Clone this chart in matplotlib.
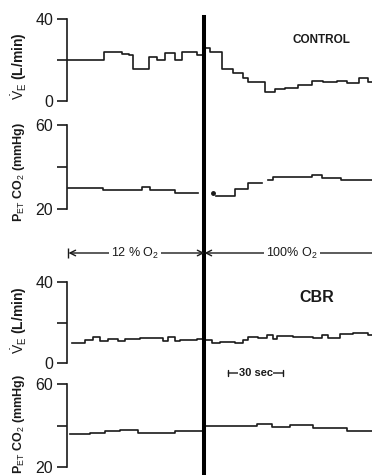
import numpy as np
import matplotlib
matplotlib.use("Agg")
import matplotlib.pyplot as plt

plt.rcParams['font.family'] = ['Liberation Sans', 'DejaVu Sans']
plt.rcParams['mathtext.fontset'] = 'custom'
plt.rcParams['mathtext.rm'] = 'Liberation Sans'
plt.rcParams['mathtext.it'] = 'Liberation Sans'
plt.rcParams['mathtext.bf'] = 'Liberation Sans:bold'

# time axis (sec), gas switch from 12% O2 to 100% O2
t_end = 166.4
t_switch = 75.0
scale_bar = [88, 118]  # 30 sec

# CONTROL, ventilation (L/min)
ctl_ve_t_pre = [0, 20, 30, 34, 36, 45, 49, 53.5, 55, 59, 63, 71, 75]
ctl_ve_pre = [20, 24, 23, 22.5, 15.5, 21.5, 20.2, 23.4, 23.5, 20, 23.7, 22.5]
ctl_ve_t_post = [75, 78, 84.5, 90.5, 96, 98.7, 108, 113.5, 119, 126, 133.6,
                 139.6, 147.3, 152.7, 159.3, 164.2, 166.4]
ctl_ve_post = [25.7, 24, 15.6, 13.5, 11, 9.4, 4.5, 5.7, 6.5, 7.8, 9.8,
               9.1, 9.8, 9, 11, 9.4]

# CONTROL, end-tidal CO2 (mmHg)
ctl_co2_t_pre = [0.5, 19.6, 40.9, 45.3, 58.9, 71.5]
ctl_co2_pre = [30, 29, 30.6, 29, 27.5]
ctl_co2_t_post = [81.3, 91.6, 98.7, 106.4, 109.6, 112.4, 133.6, 139.1, 149.5, 166.4]
ctl_co2_post = [26.3, 29.5, 32.2, np.nan, 33.8, 35.4, 36.2, 34.6, 33.8]
ctl_co2_dot = (79.5, 27.5)

# CBR, ventilation (L/min)
cbr_ve_t_pre = [2.7, 9.8, 14.2, 18, 22.4, 27.8, 31.6, 39.8, 46.9, 52.4, 55.1,
                58.9, 61.6, 70.9, 75]
cbr_ve_pre = [9.7, 11.4, 12.7, 10.9, 11.7, 11, 11.7, 12.2, 12.5, 10.9, 12.7,
              10.9, 11.4, 11.9]
cbr_ve_t_post = [75, 79.1, 83.5, 91.6, 96, 98.7, 104.2, 109.1, 112.4, 114.5,
                 123.3, 134.2, 139.1, 142.4, 148.9, 156, 164.2, 166.4]
cbr_ve_post = [11.4, 10, 10.5, 9.7, 11.4, 13, 12.2, 13.8, 11.7, 13.3, 12.7,
               12.2, 13.8, 12.5, 14.2, 15, 13.8]

# CBR, end-tidal CO2 (mmHg)
cbr_co2_t_pre = [1.6, 12.5, 20.7, 28.9, 33.8, 38.7, 58.9, 75]
cbr_co2_pre = [35.9, 36.5, 37.3, 37.8, 38, 36.5, 37.5]
cbr_co2_t_post = [75.3, 103.6, 111.8, 121.6, 134.2, 152.7, 166.4]
cbr_co2_post = [39.8, 40.6, 39.4, 40.2, 39, 37.3]

W, H = 372, 475
fig = plt.figure(figsize=(W / 100, H / 100), dpi=100)
ink = '#1a1a1a'

def px_axes(x0, x1, ytop, ybot):
    return fig.add_axes([x0 / W, 1 - ybot / H, (x1 - x0) / W, (ybot - ytop) / H])

def draw_steps(ax, t, v, **kw):
    ax.step(t, list(v) + [v[-1]], where='post', color=ink, lw=1.2, **kw)

def style(ax, lo, hi, label, lab_y, lab_size):
    ax.set_xlim(0, t_end)
    ax.set_ylim(lo, hi)
    for s in ['top', 'right', 'bottom']:
        ax.spines[s].set_visible(False)
    ax.spines['left'].set_bounds(lo, hi)
    ax.spines['left'].set_linewidth(1.2)
    ax.spines['left'].set_color(ink)
    ax.set_xticks([])
    ax.set_yticks([lo, (lo + hi) / 2, hi])
    ax.set_yticklabels([str(lo), '', str(hi)])
    ax.tick_params(axis='y', length=7, width=1.2, pad=3, labelsize=11.5, colors=ink)
    ax.patch.set_visible(False)
    fig.text(19 / W, 1 - lab_y / H, label, rotation=90, ha='center', va='center',
             fontsize=lab_size, fontweight='bold', color=ink)

ve_label = r'$\dot{\mathrm{V}}_\mathrm{E}$ (L/min)'
co2_label = r'P$_\mathrm{ET}$ CO$_2$ (mmHg)'

ax1 = px_axes(67, 372, 19, 101)
draw_steps(ax1, ctl_ve_t_pre, ctl_ve_pre)
draw_steps(ax1, ctl_ve_t_post, ctl_ve_post)
style(ax1, 0, 40, ve_label, 66, 10)

ax2 = px_axes(67, 372, 125, 209)
draw_steps(ax2, ctl_co2_t_pre, ctl_co2_pre)
draw_steps(ax2, ctl_co2_t_post, ctl_co2_post)
ax2.plot(*ctl_co2_dot, 'o', color=ink, ms=2.5)
style(ax2, 20, 60, co2_label, 172, 9)

ax3 = px_axes(67, 372, 282, 363)
draw_steps(ax3, cbr_ve_t_pre, cbr_ve_pre)
draw_steps(ax3, cbr_ve_t_post, cbr_ve_post)
style(ax3, 0, 40, ve_label, 320, 10)

ax4 = px_axes(67, 372, 384, 467)
draw_steps(ax4, cbr_co2_t_pre, cbr_co2_pre)
draw_steps(ax4, cbr_co2_t_post, cbr_co2_post)
style(ax4, 20, 60, co2_label, 424, 9)

# overlay: switch line, gas arrows, labels
ov = px_axes(67, 372, 0, 475)
ov.set_xlim(0, t_end)
ov.set_ylim(0, 1)
ov.axis('off')
ov.axvline(t_switch, ymin=0, ymax=1 - 17 / H, color='black', lw=2.9)

arrow_y = 1 - 253 / H
ov.annotate('', xy=(0.8, arrow_y), xytext=(t_switch, arrow_y),
            arrowprops=dict(arrowstyle='<->', color=ink, lw=1.0, shrinkA=0, shrinkB=0))
ov.plot([0.8], [arrow_y], marker='|', ms=7, mew=1.0, color=ink)
ov.annotate('', xy=(t_switch, arrow_y), xytext=(t_end, arrow_y),
            arrowprops=dict(arrowstyle='->', color=ink, lw=1.0, shrinkA=0, shrinkB=0))
bbox = dict(facecolor='white', edgecolor='none', pad=1.5)
ov.text(37, arrow_y, r'12 % O$_2$', ha='center', va='center', fontsize=9,
        color=ink, bbox=bbox)
ov.text(122.5, arrow_y, r'100% O$_2$', ha='center', va='center', fontsize=9,
        color=ink, bbox=bbox)

ov.text(139, 1 - 40 / H, 'CONTROL', ha='center', va='center', fontsize=8.5,
        fontweight='bold', color=ink)
ov.text(136, 1 - 297 / H, 'CBR', ha='center', va='center', fontsize=11.5,
        fontweight='bold', color=ink)

# 30 sec scale bar
bar_y = 1 - 373 / H
ov.annotate('', xy=(scale_bar[0], bar_y), xytext=(scale_bar[1], bar_y),
            arrowprops=dict(arrowstyle='|-|,widthA=0.25,widthB=0.25', color=ink,
                            lw=1.0, shrinkA=0, shrinkB=0))
ov.text(sum(scale_bar) / 2, bar_y, '30 sec', ha='center', va='center', fontsize=8,
        fontweight='bold', color=ink,
        bbox=dict(facecolor='white', edgecolor='none', pad=0.3))

fig.savefig('out.png', dpi=100)
